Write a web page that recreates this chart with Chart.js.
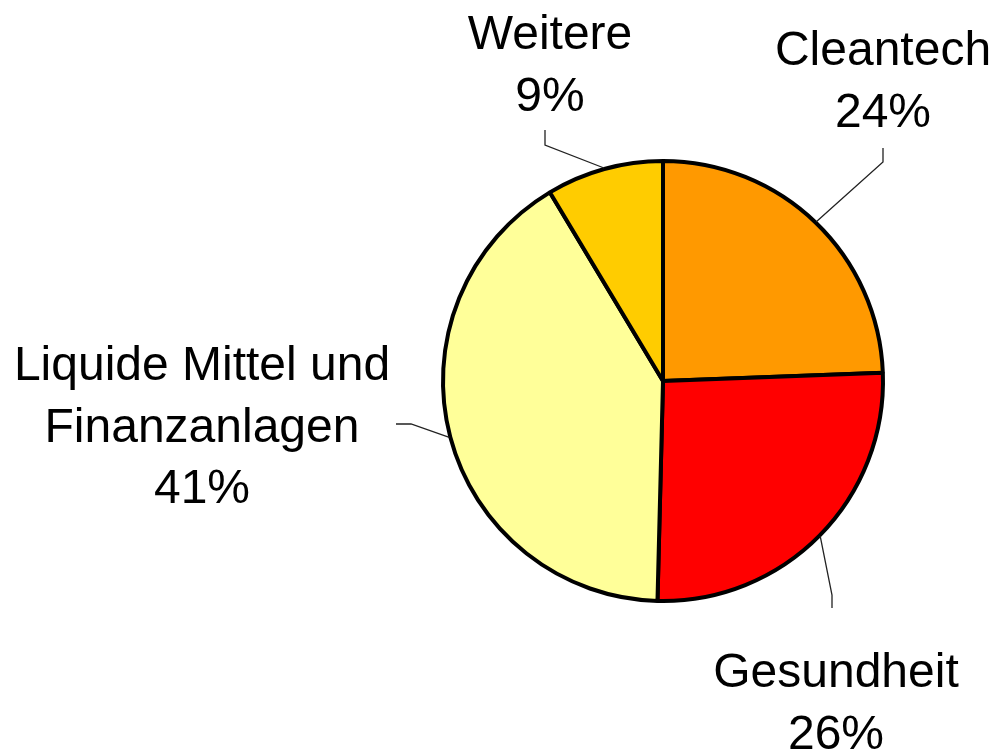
<!DOCTYPE html>
<html>
<head>
<meta charset="utf-8">
<script src="https://cdn.jsdelivr.net/npm/chart.js@4/dist/chart.umd.min.js"></script>
<style>
html,body{margin:0;padding:0;background:#fff;}
#wrap{width:997px;height:751px;position:relative;}
</style>
</head>
<body>
<div id="wrap"><canvas id="c" width="997" height="751"></canvas></div>
<script>
const categories = ["Cleantech", "Gesundheit", "Liquide Mittel und\nFinanzanlagen", "Weitere"];
const values = [24.4, 26.0, 41.0, 8.6];
const colors = ["#FF9900", "#FF0000", "#FFFF99", "#FFCC00"];

// label layout (positions only)
const labelLayout = [
  {cx: 883, base: 65, elbow: [883, 162], end: [883, 148]},
  {cx: 836, base: 687, elbow: [832, 595], end: [832, 608]},
  {cx: 202, base: 380, elbow: [411, 424], end: [396, 424]},
  {cx: 550, base: 49, elbow: [545, 145], end: [545, 130]}
];

const labelPlugin = {
  id: 'pieLabels',
  afterDatasetsDraw(chart) {
    const ctx = chart.ctx;
    const meta = chart.getDatasetMeta(0);
    const data = chart.data.datasets[0].data;
    const total = data.reduce((a, b) => a + b, 0);
    ctx.save();
    meta.data.forEach((arc, i) => {
      const p = arc.getProps(['x', 'y', 'startAngle', 'endAngle', 'outerRadius'], true);
      const mid = (p.startAngle + p.endAngle) / 2;
      const ex = p.x + Math.cos(mid) * (p.outerRadius + 1);
      const ey = p.y + Math.sin(mid) * (p.outerRadius + 1);
      const L = labelLayout[i];
      ctx.strokeStyle = '#222';
      ctx.lineWidth = 1.3;
      ctx.beginPath();
      ctx.moveTo(ex, ey);
      ctx.lineTo(L.elbow[0], L.elbow[1]);
      ctx.lineTo(L.end[0], L.end[1]);
      ctx.stroke();
      const lines = chart.data.labels[i].split('\n');
      lines.push(Math.round(data[i] / total * 100) + '%');
      ctx.fillStyle = '#000';
      ctx.font = '48px "Liberation Sans", Arial, sans-serif';
      ctx.textAlign = 'center';
      ctx.textBaseline = 'alphabetic';
      lines.forEach((t, k) => ctx.fillText(t, L.cx, L.base + k * 61.5));
    });
    ctx.restore();
  }
};

new Chart(document.getElementById('c'), {
  type: 'pie',
  data: {
    labels: categories,
    datasets: [{
      data: values,
      backgroundColor: colors,
      borderColor: '#000',
      borderWidth: 4,
      hoverOffset: 0
    }]
  },
  options: {
    responsive: false,
    animation: false,
    layout: {padding: {left: 441, right: 112, top: 159, bottom: 148}},
    plugins: {legend: {display: false}, tooltip: {enabled: false}}
  },
  plugins: [labelPlugin]
});
</script>
</body>
</html>
